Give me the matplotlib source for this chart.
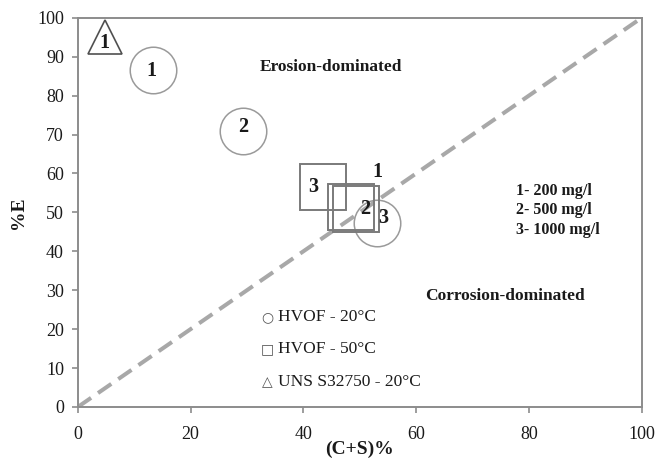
import matplotlib
matplotlib.use("Agg")
import matplotlib.pyplot as plt

# ---- data ----
circle_x = [13.35, 29.3, 53.0]
circle_y = [86.6, 70.8, 47.2]
circle_labels = ["1", "2", "3"]

square_x = [48.4, 49.4, 43.4]
square_y = [51.4, 50.8, 56.4]
square_labels = ["1", "2", "3"]

triangle_x = [4.9]
triangle_y = [95.0]
triangle_labels = ["1"]

diag_x = [0, 100]
diag_y = [0, 100]

x_ticks = [0, 20, 40, 60, 80, 100]
y_ticks = [0, 10, 20, 30, 40, 50, 60, 70, 80, 90, 100]

legend_symbols = ["○", "□", "△"]
legend_texts = ["HVOF - 20°C", "HVOF - 50°C", "UNS S32750 - 20°C"]
conc_texts = ["1- 200 mg/l", "2- 500 mg/l", "3- 1000 mg/l"]

# ---- layout / style ----
SERIF = ["Liberation Serif", "DejaVu Serif"]
SYM = ["DejaVu Sans"]
plt.rcParams["font.family"] = SERIF

fig = plt.figure(figsize=(6.65, 4.59), dpi=100)
ax = fig.add_axes([0.117, 0.1133, 0.848, 0.848])
ax.set_xlim(0, 100)
ax.set_ylim(0, 100)

spine_c = "#8c8c8c"
for s in ax.spines.values():
    s.set_color(spine_c)
    s.set_linewidth(1.4)

ax.set_xticks(x_ticks)
ax.set_yticks(y_ticks)
ax.tick_params(axis="both", direction="out", length=4, width=1.2,
               color=spine_c, labelcolor="#1a1a1a", labelsize=13)
ax.tick_params(axis="x", pad=10)
ax.tick_params(axis="y", pad=6)

ax.plot(diag_x, diag_y, color="#a8a8a8", lw=2.9, dashes=(4, 2.1), zorder=1)

ax.plot(circle_x, circle_y, ls="none", marker="o", ms=33.5, mfc="none",
        mec="#9a9a9a", mew=1.1, zorder=2)
ax.plot(square_x, square_y, ls="none", marker="s", ms=32.5, mfc="none",
        mec="#7a7a7a", mew=1.4, zorder=2)
ax.plot(triangle_x, triangle_y, ls="none", marker="^", ms=24, mfc="none",
        mec="#505050", mew=1.2, zorder=2)

lbl_kw = dict(textcoords="offset points", ha="center", va="center",
              fontsize=14.5, fontweight="bold", color="#1a1a1a", zorder=3)
circle_off = [(-1, -1), (0, 3), (5, 4)]
square_off = [(19, 25), (6, 0), (-7, 0)]
triangle_off = [(-1, -4)]
for x, y, t, o in zip(circle_x, circle_y, circle_labels, circle_off):
    ax.annotate(t, (x, y), xytext=o, **lbl_kw)
for x, y, t, o in zip(square_x, square_y, square_labels, square_off):
    ax.annotate(t, (x, y), xytext=o, **lbl_kw)
for x, y, t, o in zip(triangle_x, triangle_y, triangle_labels, triangle_off):
    ax.annotate(t, (x, y), xytext=o, **lbl_kw)

ax.text(44.9, 87.4, "Erosion-dominated", ha="center", va="center",
        fontsize=12.5, fontweight="bold", color="#1a1a1a")
ax.text(89.9, 28.5, "Corrosion-dominated", ha="right", va="center",
        fontsize=12.5, fontweight="bold", color="#1a1a1a")

for i, t in enumerate(conc_texts):
    ax.text(77.7, 55.6 - i * 5.0, t, ha="left", va="center",
            fontsize=11.5, fontweight="bold", color="#1a1a1a")

leg_y = [23.1, 14.9, 6.4]
for s, t, y in zip(legend_symbols, legend_texts, leg_y):
    ax.text(33.6, y, s, ha="center", va="center", fontsize=10,
            family=SYM, color="#555555")
    ax.text(35.5, y, t, ha="left", va="center", fontsize=12.5,
            color="#1a1a1a")

ax.set_xlabel("(C+S)%", fontsize=14, fontweight="bold", color="#1a1a1a",
              labelpad=-2)
ax.set_ylabel("%E", fontsize=14, fontweight="bold", color="#1a1a1a",
              labelpad=7)

fig.savefig("out.png", dpi=100)
